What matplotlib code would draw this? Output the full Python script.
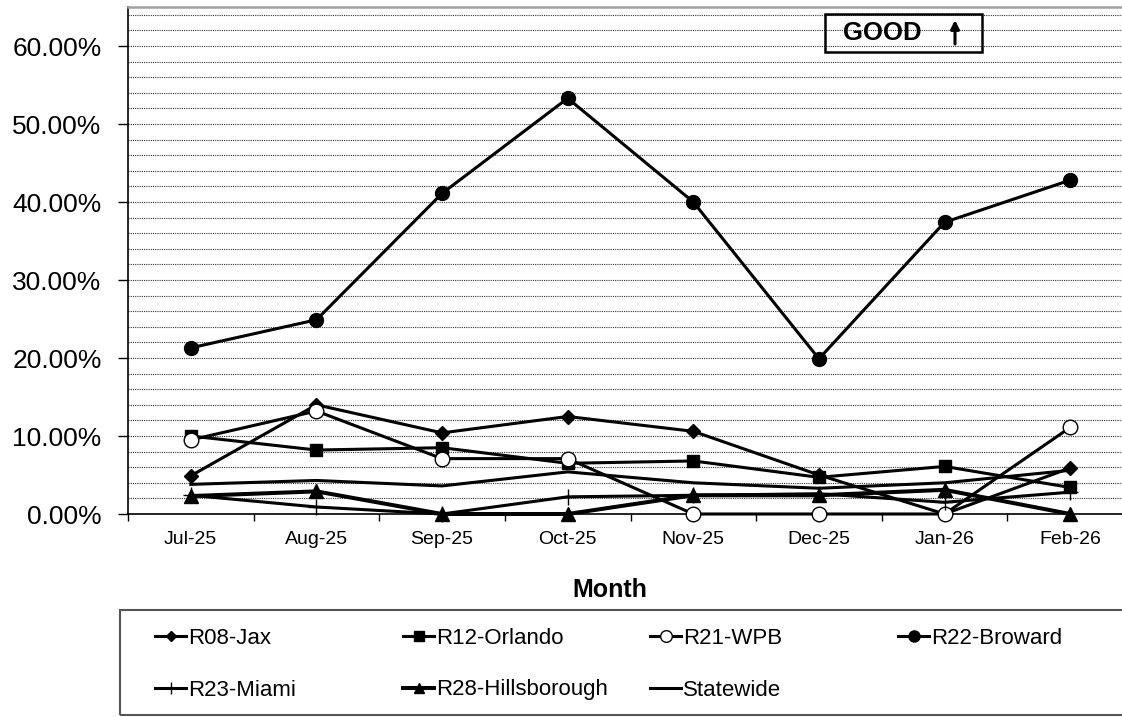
import matplotlib
matplotlib.use('Agg')
import matplotlib.pyplot as plt
from matplotlib.lines import Line2D
from matplotlib.patches import Rectangle
from matplotlib.ticker import MultipleLocator, FuncFormatter

plt.rcParams['font.family'] = ['Liberation Sans', 'DejaVu Sans']

months = ['Jul-25', 'Aug-25', 'Sep-25', 'Oct-25', 'Nov-25', 'Dec-25', 'Jan-26', 'Feb-26']

# percent values
jax = [4.9, 14.0, 10.4, 12.5, 10.6, 5.0, 0.0, 5.9]
orlando = [10.0, 8.2, 8.5, 6.5, 6.8, 4.7, 6.1, 3.4]
wpb = [9.5, 13.2, 7.1, 7.1, 0.0, 0.0, 0.0, 11.1]
broward = [21.3, 24.9, 41.1, 53.3, 40.0, 19.9, 37.4, 42.8]
miami = [2.4, 0.9, 0.0, 2.2, 2.4, 2.6, 1.5, 2.8]
hillsborough = [2.3, 2.9, 0.0, 0.0, 2.4, 2.4, 3.1, 0.0]
statewide = [3.8, 4.3, 3.6, 5.4, 4.0, 3.3, 4.0, 5.6]

series = [
    ('R08-Jax', jax, dict(marker='D', ms=7, mfc='black', lw=2.2)),
    ('R12-Orlando', orlando, dict(marker='s', ms=8.5, mfc='black', lw=2.2)),
    ('R21-WPB', wpb, dict(marker='o', ms=10.5, mfc='white', mew=1.0, lw=2.2)),
    ('R22-Broward', broward, dict(marker='o', ms=10, mfc='black', lw=2.2)),
    ('R23-Miami', miami, dict(marker='+', ms=11, mew=1.0, lw=2.2)),
    ('R28-Hillsborough', hillsborough, dict(marker='^', ms=9.5, mfc='black', lw=2.9)),
    ('Statewide', statewide, dict(marker=None, lw=2.2)),
]

W, H = 1122, 717
fig = plt.figure(figsize=(W / 100, H / 100), dpi=100)
ax = fig.add_axes([128 / W, 1 - 514 / H, (1133 - 128) / W, (514 - 7) / H])

x = list(range(len(months)))
for name, vals, st in series:
    ax.plot(x, vals, color='black', mec='black', label=name, clip_on=False, zorder=3, **st)

ax.set_xlim(-0.5, len(months) - 0.5)
ax.set_ylim(0, 65)
ax.set_xticks(x)
ax.set_xticklabels(months, fontsize=14)
ax.set_xticks([i - 0.5 for i in range(len(months) + 1)], minor=True)
ax.tick_params(axis='x', which='major', length=0, pad=12)
ax.tick_params(axis='x', which='minor', length=5, width=1, direction='out')

ax.yaxis.set_major_locator(MultipleLocator(10))
ax.yaxis.set_minor_locator(MultipleLocator(2))
ax.yaxis.set_major_formatter(FuncFormatter(lambda v, p: '%.2f%%' % v))
ax.tick_params(axis='y', which='major', labelsize=19, length=7, width=1, direction='out', pad=12)
ax.tick_params(axis='y', which='minor', length=0)
ax.grid(True, axis='y', which='both', color='#333333', linestyle=(0, (1, 1)), linewidth=0.8, zorder=0)

for s in ['left', 'bottom']:
    ax.spines[s].set_color('black')
    ax.spines[s].set_linewidth(1.2)
ax.spines['top'].set_color('#a0a0a0')
ax.spines['top'].set_linewidth(1.8)
ax.spines['right'].set_visible(False)
ax.set_axisbelow(True)

fig.text(610 / W, 1 - 590 / H, 'Month', fontsize=18, fontweight='bold', ha='center', va='center')

# GOOD box with arrow
fig.patches.append(Rectangle((825 / W, 1 - 52 / H), 157 / W, 38 / H, transform=fig.transFigure,
                             fill=False, edgecolor='black', linewidth=1.8))
fig.text(882 / W, 1 - 33 / H, 'GOOD', fontsize=18.5, fontweight='bold', ha='center', va='center')
ax.annotate('', xy=(955 / W, 1 - 20 / H), xytext=(955 / W, 1 - 44 / H),
            xycoords='figure fraction', textcoords='figure fraction',
            arrowprops=dict(arrowstyle='-|>,head_length=0.5,head_width=0.25', lw=2.2,
                            color='black', shrinkA=0, shrinkB=0))

# legend box and entries
fig.patches.append(Rectangle((120 / W, 1 - 715 / H), 1010 / W, 105 / H, transform=fig.transFigure,
                             fill=False, edgecolor='#555555', linewidth=1.5))
leg_pos = [(155, 638), (403, 638), (650, 638), (898, 638), (155, 690), (403, 690), (650, 690)]
lines = ax.get_lines()
for line, (lx, ly) in zip(lines, leg_pos):
    h = Line2D([], [], color='black', lw=line.get_linewidth(), marker=line.get_marker(),
               ms=line.get_markersize() * 0.8, mfc=line.get_markerfacecolor(),
               mec='black', mew=line.get_markeredgewidth())
    fig.legend([h], [line.get_label()], loc='center left', bbox_to_anchor=(lx / W, 1 - ly / H),
               frameon=False, fontsize=16, handlelength=1.4, handletextpad=0.1,
               borderpad=0, borderaxespad=0)

fig.savefig('out.png', dpi=100)
